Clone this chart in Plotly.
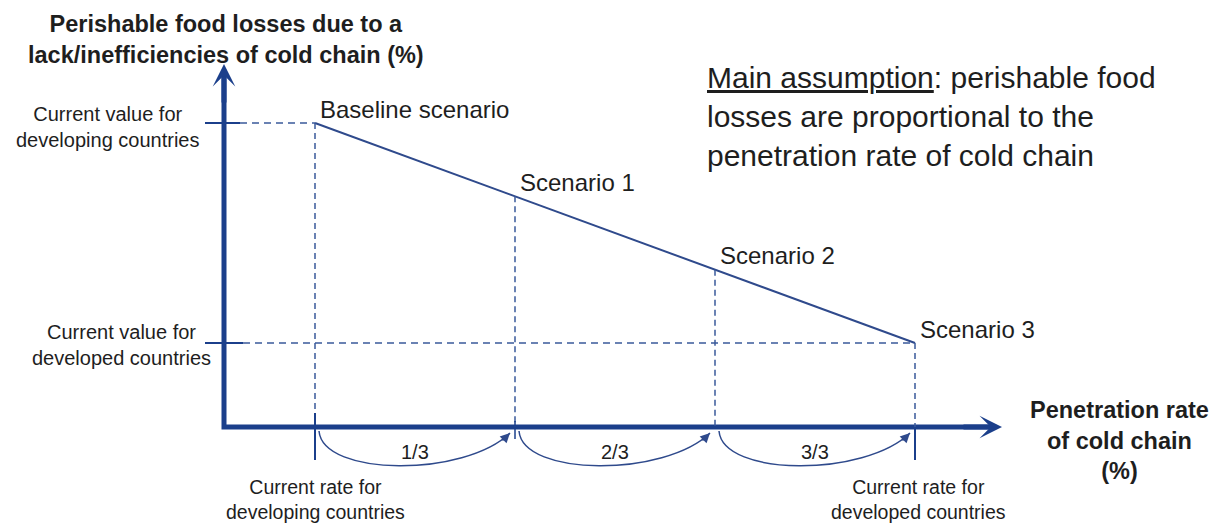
import plotly.graph_objects as go

# ---- data (conceptual diagram) ----
scenarios = ["Baseline scenario", "Scenario 1", "Scenario 2", "Scenario 3"]
penetration = [0, 1, 2, 3]      # thirds of the gap closed
losses = [3, 2, 1, 0]           # relative perishable food loss level
steps = ["1/3", "2/3", "3/3"]
y_labels = ["Current value for<br>developing countries",
            "Current value for<br>developed countries"]
x_labels = ["Current rate for<br>developing countries",
            "Current rate for<br>developed countries"]
y_title = "<b>Perishable food losses due to a<br>lack/inefficiencies of cold chain (%)</b>"
x_title = "<b>Penetration rate<br>of cold chain<br>(%)</b>"
assumption = ("<u>Main assumption</u>: perishable food<br>"
              "losses are proportional to the<br>"
              "penetration rate of cold chain")

# ---- geometry ----
W, H = 1218, 525
SX = 200.0      # px per x unit
SY = 73.333     # px per y unit
X0PX = 315      # pixel column of first scenario
Y0PX = 343      # pixel row of lowest loss level

xr = [penetration[0] - X0PX / SX, penetration[0] + (W - X0PX) / SX]
yr = [losses[-1] - (H - Y0PX) / SY, losses[-1] + Y0PX / SY]


def dx(p):
    return p / SX


def dy(p):
    return p / SY


NAVY = "#1b3f8b"
LINE = "#2f4a8c"
DASH = "#3a5a9a"
TXT = "#1e1e1e"
FONT = "Liberation Sans, Arial, sans-serif"

ox = penetration[0] - dx(91)          # axis origin x
oy = losses[-1] - dy(84)              # axis origin y
ytop = losses[0] + dy(59)             # y-axis arrow tip
xend = penetration[-1] + dx(87)       # x-axis arrow tip

fig = go.Figure()

fig.add_trace(go.Scatter(
    x=penetration, y=losses, mode="lines",
    line=dict(color=LINE, width=2), hoverinfo="skip", showlegend=False))

shapes = []
# axes (L shape)
shapes.append(dict(type="path", xref="x", yref="y",
                   path=f"M {ox},{ytop - dy(12)} L {ox},{oy} L {xend - dx(12)},{oy}",
                   line=dict(color=NAVY, width=5)))

# reference ticks on the loss axis
shapes.append(dict(type="line", xref="x", yref="y",
                   x0=ox - dx(19), x1=ox + dx(16), y0=losses[0], y1=losses[0],
                   line=dict(color=NAVY, width=2)))
shapes.append(dict(type="line", xref="x", yref="y",
                   x0=ox - dx(19), x1=ox + dx(19), y0=losses[-1], y1=losses[-1],
                   line=dict(color=NAVY, width=2)))
# dashed horizontals
shapes.append(dict(type="line", xref="x", yref="y",
                   x0=ox + dx(16), x1=penetration[0], y0=losses[0], y1=losses[0],
                   line=dict(color=DASH, width=1.5, dash="7px,5px")))
shapes.append(dict(type="line", xref="x", yref="y",
                   x0=ox + dx(19), x1=penetration[-1], y0=losses[-1], y1=losses[-1],
                   line=dict(color=DASH, width=1.5, dash="7px,5px")))
# dashed verticals
for p, l in zip(penetration, losses):
    shapes.append(dict(type="line", xref="x", yref="y",
                       x0=p, x1=p, y0=l, y1=oy,
                       line=dict(color=DASH, width=1.5, dash="6px,4px")))
# ticks on the penetration axis
shapes.append(dict(type="line", xref="x", yref="y",
                   x0=penetration[0], x1=penetration[0], y0=oy + dy(14), y1=oy - dy(33),
                   line=dict(color=NAVY, width=2)))
shapes.append(dict(type="line", xref="x", yref="y",
                   x0=penetration[-1], x1=penetration[-1], y0=oy, y1=oy - dy(33),
                   line=dict(color=NAVY, width=2)))
shapes.append(dict(type="line", xref="x", yref="y",
                   x0=penetration[1], x1=penetration[1], y0=oy + dy(6), y1=oy - dy(12),
                   line=dict(color=NAVY, width=1.5)))

annotations = []
# curved step arrows
for i in range(len(steps)):
    a, b = penetration[i], penetration[i + 1]
    p0 = (a + dx(4), oy - dy(4))
    p1 = (a + dx(8), oy - dy(50))
    p2 = (b - dx(50), oy - dy(50))
    p3 = (b - dx(5), oy - dy(6))
    shapes.append(dict(type="path", xref="x", yref="y",
                       path=f"M {p0[0]},{p0[1]} C {p1[0]},{p1[1]} {p2[0]},{p2[1]} {p3[0]},{p3[1]}",
                       line=dict(color=LINE, width=1.5)))
    annotations.append(dict(x=p3[0], y=p3[1], xref="x", yref="y", text="",
                            showarrow=True, ax=-9, ay=9, arrowhead=2,
                            arrowsize=1.3, arrowwidth=1.5, arrowcolor=LINE))
    annotations.append(dict(x=(a + b) / 2, y=oy - dy(25), xref="x", yref="y",
                            text=steps[i], showarrow=False,
                            font=dict(size=20, color=TXT, family=FONT)))

# axis arrowheads
annotations.append(dict(x=ox, y=ytop, xref="x", yref="y", text="", showarrow=True,
                        ax=0, ay=40, arrowhead=3, arrowsize=0.75, arrowwidth=5,
                        arrowcolor=NAVY))
annotations.append(dict(x=xend, y=oy, xref="x", yref="y", text="", showarrow=True,
                        ax=-40, ay=0, arrowhead=3, arrowsize=0.75, arrowwidth=5,
                        arrowcolor=NAVY))

# scenario labels
for s, p, l in zip(scenarios, penetration, losses):
    annotations.append(dict(x=p + dx(3), y=l, xref="x", yref="y", text=s,
                            showarrow=False, xanchor="left", yanchor="middle",
                            yshift=14, font=dict(size=24, color=TXT, family=FONT)))

# loss axis value labels
annotations.append(dict(x=ox - dx(117), y=losses[0] - dy(4), xref="x", yref="y",
                        text=y_labels[0], showarrow=False,
                        xanchor="center", yanchor="middle",
                        font=dict(size=20, color=TXT, family=FONT)))
annotations.append(dict(x=ox - dx(103), y=losses[-1] - dy(2), xref="x", yref="y",
                        text=y_labels[1], showarrow=False,
                        xanchor="center", yanchor="middle",
                        font=dict(size=20, color=TXT, family=FONT)))
# penetration axis value labels
annotations.append(dict(x=penetration[0], y=oy - dy(72), xref="x", yref="y",
                        text=x_labels[0], showarrow=False,
                        xanchor="center", yanchor="middle",
                        font=dict(size=19.5, color=TXT, family=FONT)))
annotations.append(dict(x=penetration[-1] + dx(3), y=oy - dy(72), xref="x", yref="y",
                        text=x_labels[1], showarrow=False,
                        xanchor="center", yanchor="middle",
                        font=dict(size=19.5, color=TXT, family=FONT)))

# titles
annotations.append(dict(x=ox + dx(2), y=losses[0] + dy(84), xref="x", yref="y",
                        text=y_title, showarrow=False,
                        xanchor="center", yanchor="middle",
                        font=dict(size=23.5, color=TXT, family=FONT)))
annotations.append(dict(x=1119 / W, y=1 - 440 / H, xref="paper", yref="paper",
                        text=x_title, showarrow=False,
                        xanchor="center", yanchor="middle",
                        font=dict(size=23.5, color=TXT, family=FONT)))
annotations.append(dict(x=705 / W, y=1 - 116 / H, xref="paper", yref="paper",
                        text=assumption, showarrow=False, xanchor="left",
                        yanchor="middle", align="left",
                        font=dict(size=30, color=TXT, family=FONT)))

fig.update_layout(
    width=W, height=H, autosize=False,
    margin=dict(l=0, r=0, t=0, b=0),
    paper_bgcolor="white", plot_bgcolor="white",
    xaxis=dict(range=xr, visible=False, fixedrange=True),
    yaxis=dict(range=yr, visible=False, fixedrange=True),
    shapes=shapes, annotations=annotations, showlegend=False,
)

fig.write_html("out.html", config={"displayModeBar": False},
               post_script="document.body.style.margin='0';document.body.style.overflow='hidden';")
